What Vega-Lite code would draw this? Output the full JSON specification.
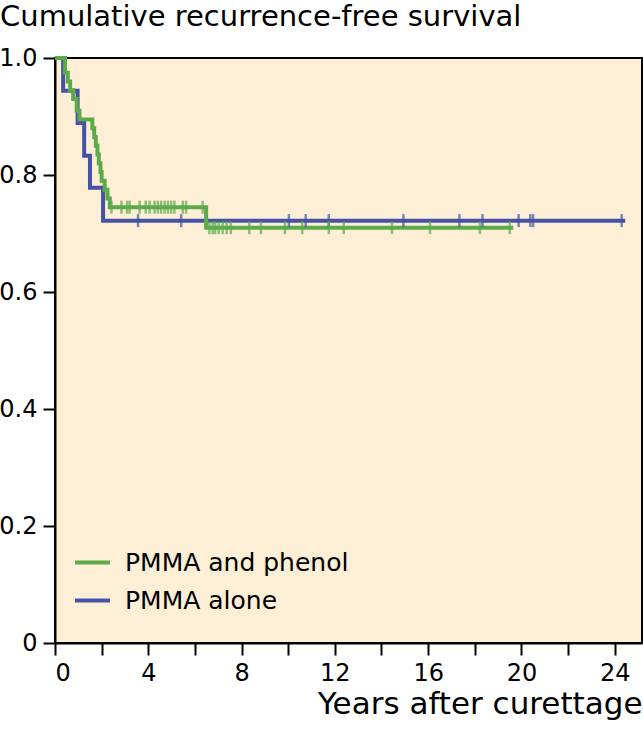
{
  "$schema": "https://vega.github.io/schema/vega-lite/v6.json",
  "width": 587,
  "height": 585,
  "autosize": {"type": "none"},
  "padding": {"left": 55, "top": 58, "right": 1, "bottom": 87},
  "background": "white",
  "title": {
    "text": "Cumulative recurrence-free survival",
    "anchor": "start",
    "frame": "group",
    "dx": -55,
    "dy": 9,
    "offset": 0,
    "baseline": "alphabetic",
    "font": "DejaVu Sans",
    "fontSize": 29,
    "fontWeight": "normal",
    "color": "black"
  },
  "config": {
    "view": {"fill": "#FCEFD6", "stroke": "black", "strokeWidth": 2},
    "axis": {
      "domainColor": "black",
      "domainWidth": 2,
      "tickColor": "black",
      "tickWidth": 2,
      "tickSize": 12,
      "grid": false,
      "labelFont": "DejaVu Sans",
      "labelFontSize": 24,
      "labelColor": "black",
      "titleFont": "DejaVu Sans",
      "titleColor": "black"
    }
  },
  "data": {
    "values": [
      {"group": "PMMA alone", "time": 0, "surv": 1.0, "censor": 0},
      {"group": "PMMA alone", "time": 0.35, "surv": 0.944, "censor": 0},
      {"group": "PMMA alone", "time": 0.97, "surv": 0.889, "censor": 0},
      {"group": "PMMA alone", "time": 1.25, "surv": 0.833, "censor": 0},
      {"group": "PMMA alone", "time": 1.5, "surv": 0.778, "censor": 0},
      {"group": "PMMA alone", "time": 2.06, "surv": 0.722, "censor": 0},
      {"group": "PMMA alone", "time": 3.56, "surv": 0.722, "censor": 1},
      {"group": "PMMA alone", "time": 5.41, "surv": 0.722, "censor": 1},
      {"group": "PMMA alone", "time": 10.03, "surv": 0.722, "censor": 1},
      {"group": "PMMA alone", "time": 10.75, "surv": 0.722, "censor": 1},
      {"group": "PMMA alone", "time": 11.74, "surv": 0.722, "censor": 1},
      {"group": "PMMA alone", "time": 14.94, "surv": 0.722, "censor": 1},
      {"group": "PMMA alone", "time": 17.34, "surv": 0.722, "censor": 1},
      {"group": "PMMA alone", "time": 18.33, "surv": 0.722, "censor": 1},
      {"group": "PMMA alone", "time": 19.88, "surv": 0.722, "censor": 1},
      {"group": "PMMA alone", "time": 20.38, "surv": 0.722, "censor": 1},
      {"group": "PMMA alone", "time": 20.5, "surv": 0.722, "censor": 1},
      {"group": "PMMA alone", "time": 24.3, "surv": 0.722, "censor": 1},
      {"group": "PMMA alone", "time": 24.45, "surv": 0.722, "censor": 0},
      {"group": "PMMA and phenol", "time": 0, "surv": 1.0, "censor": 0},
      {"group": "PMMA and phenol", "time": 0.43, "surv": 0.975, "censor": 0},
      {"group": "PMMA and phenol", "time": 0.55, "surv": 0.96, "censor": 0},
      {"group": "PMMA and phenol", "time": 0.65, "surv": 0.945, "censor": 0},
      {"group": "PMMA and phenol", "time": 0.78, "surv": 0.93, "censor": 0},
      {"group": "PMMA and phenol", "time": 0.93, "surv": 0.91, "censor": 0},
      {"group": "PMMA and phenol", "time": 1.05, "surv": 0.895, "censor": 0},
      {"group": "PMMA and phenol", "time": 1.6, "surv": 0.88, "censor": 0},
      {"group": "PMMA and phenol", "time": 1.68, "surv": 0.865, "censor": 0},
      {"group": "PMMA and phenol", "time": 1.75, "surv": 0.85, "censor": 0},
      {"group": "PMMA and phenol", "time": 1.82, "surv": 0.835, "censor": 0},
      {"group": "PMMA and phenol", "time": 1.88, "surv": 0.82, "censor": 0},
      {"group": "PMMA and phenol", "time": 1.95, "surv": 0.805, "censor": 0},
      {"group": "PMMA and phenol", "time": 2.0, "surv": 0.79, "censor": 0},
      {"group": "PMMA and phenol", "time": 2.13, "surv": 0.775, "censor": 0},
      {"group": "PMMA and phenol", "time": 2.25, "surv": 0.76, "censor": 0},
      {"group": "PMMA and phenol", "time": 2.35, "surv": 0.745, "censor": 0},
      {"group": "PMMA and phenol", "time": 2.42, "surv": 0.745, "censor": 1},
      {"group": "PMMA and phenol", "time": 2.85, "surv": 0.745, "censor": 1},
      {"group": "PMMA and phenol", "time": 3.09, "surv": 0.745, "censor": 1},
      {"group": "PMMA and phenol", "time": 3.2, "surv": 0.745, "censor": 1},
      {"group": "PMMA and phenol", "time": 3.63, "surv": 0.745, "censor": 1},
      {"group": "PMMA and phenol", "time": 3.89, "surv": 0.745, "censor": 1},
      {"group": "PMMA and phenol", "time": 4.06, "surv": 0.745, "censor": 1},
      {"group": "PMMA and phenol", "time": 4.27, "surv": 0.745, "censor": 1},
      {"group": "PMMA and phenol", "time": 4.41, "surv": 0.745, "censor": 1},
      {"group": "PMMA and phenol", "time": 4.55, "surv": 0.745, "censor": 1},
      {"group": "PMMA and phenol", "time": 4.7, "surv": 0.745, "censor": 1},
      {"group": "PMMA and phenol", "time": 4.84, "surv": 0.745, "censor": 1},
      {"group": "PMMA and phenol", "time": 4.98, "surv": 0.745, "censor": 1},
      {"group": "PMMA and phenol", "time": 5.12, "surv": 0.745, "censor": 1},
      {"group": "PMMA and phenol", "time": 5.48, "surv": 0.745, "censor": 1},
      {"group": "PMMA and phenol", "time": 5.62, "surv": 0.745, "censor": 1},
      {"group": "PMMA and phenol", "time": 6.33, "surv": 0.745, "censor": 1},
      {"group": "PMMA and phenol", "time": 6.48, "surv": 0.71, "censor": 0},
      {"group": "PMMA and phenol", "time": 6.62, "surv": 0.71, "censor": 1},
      {"group": "PMMA and phenol", "time": 6.76, "surv": 0.71, "censor": 1},
      {"group": "PMMA and phenol", "time": 6.87, "surv": 0.71, "censor": 1},
      {"group": "PMMA and phenol", "time": 7.02, "surv": 0.71, "censor": 1},
      {"group": "PMMA and phenol", "time": 7.19, "surv": 0.71, "censor": 1},
      {"group": "PMMA and phenol", "time": 7.36, "surv": 0.71, "censor": 1},
      {"group": "PMMA and phenol", "time": 7.54, "surv": 0.71, "censor": 1},
      {"group": "PMMA and phenol", "time": 8.33, "surv": 0.71, "censor": 1},
      {"group": "PMMA and phenol", "time": 8.83, "surv": 0.71, "censor": 1},
      {"group": "PMMA and phenol", "time": 9.86, "surv": 0.71, "censor": 1},
      {"group": "PMMA and phenol", "time": 10.6, "surv": 0.71, "censor": 1},
      {"group": "PMMA and phenol", "time": 11.74, "surv": 0.71, "censor": 1},
      {"group": "PMMA and phenol", "time": 12.38, "surv": 0.71, "censor": 1},
      {"group": "PMMA and phenol", "time": 14.45, "surv": 0.71, "censor": 1},
      {"group": "PMMA and phenol", "time": 16.08, "surv": 0.71, "censor": 1},
      {"group": "PMMA and phenol", "time": 18.22, "surv": 0.71, "censor": 1},
      {"group": "PMMA and phenol", "time": 19.5, "surv": 0.71, "censor": 1},
      {"group": "PMMA and phenol", "time": 19.65, "surv": 0.71, "censor": 0}
    ]
  },
  "encoding": {
    "x": {
      "field": "time",
      "type": "quantitative",
      "scale": {"domain": [0, 25.17], "nice": false, "zero": false},
      "axis": {
        "values": [0, 2, 4, 6, 8, 10, 12, 14, 16, 18, 20, 22, 24],
        "labelExpr": "datum.value % 4 == 0 ? datum.label : ''",
        "labelPadding": 6,
        "title": "Years after curettage",
        "titleFontSize": 31,
        "titleFontWeight": "normal",
        "titleAnchor": "end",
        "titleAlign": "right",
        "titleBaseline": "alphabetic",
        "titleY": 70
      }
    },
    "y": {
      "field": "surv",
      "type": "quantitative",
      "scale": {"domain": [0, 1], "nice": false},
      "axis": {
        "values": [0, 0.2, 0.4, 0.6, 0.8, 1.0],
        "labelExpr": "datum.value == 0 ? '0' : format(datum.value, '.1f')",
        "labelPadding": 6,
        "title": null
      }
    },
    "color": {
      "field": "group",
      "type": "nominal",
      "scale": {
        "domain": ["PMMA and phenol", "PMMA alone"],
        "range": ["#5DAA4B", "#4653A5"]
      },
      "legend": {
        "title": null,
        "orient": "none",
        "legendX": 18,
        "legendY": 485,
        "symbolType": "stroke",
        "symbolSize": 1225,
        "symbolStrokeWidth": 4,
        "symbolOpacity": 1,
        "labelFont": "DejaVu Sans",
        "labelFontSize": 25,
        "labelColor": "black",
        "labelOffset": 13,
        "rowPadding": 5,
        "labelLimit": 400
      }
    }
  },
  "layer": [
    {
      "mark": {"type": "line", "interpolate": "step-after", "strokeWidth": 4},
      "encoding": {"order": {"field": "time", "type": "quantitative"}}
    },
    {
      "transform": [{"filter": "datum.censor == 1"}],
      "mark": {"type": "tick", "orient": "vertical", "size": 13, "thickness": 2.5}
    }
  ]
}
